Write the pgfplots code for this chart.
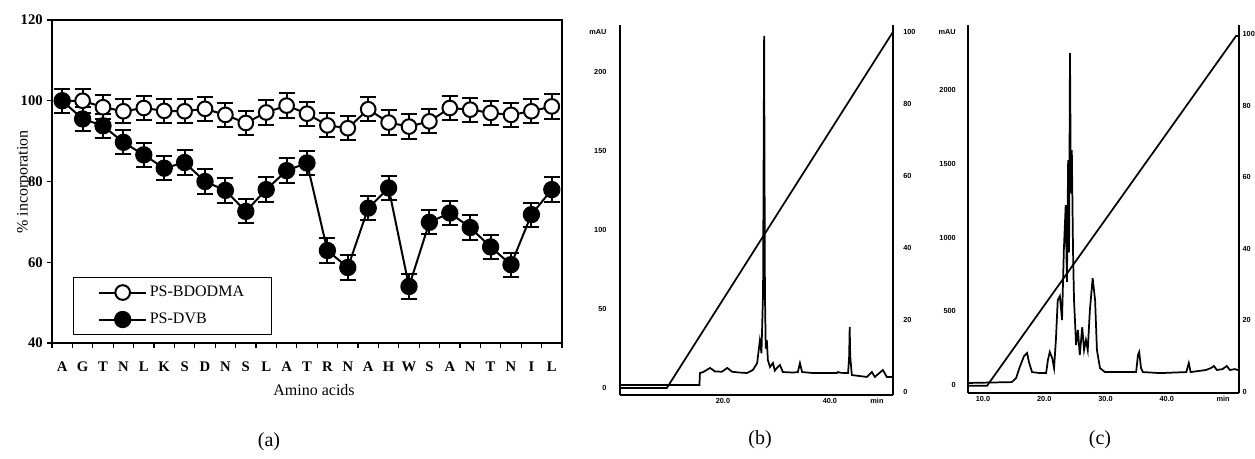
\documentclass[border=0pt]{standalone}
\usepackage{pgfplots}
\pgfplotsset{compat=1.18}
\usepackage{fontspec}
\setmainfont{Liberation Serif}
\newfontfamily\sansf{Liberation Sans}
\begin{document}
\begin{tikzpicture}[x=0.75pt,y=-0.75pt]
\useasboundingbox (0,0) rectangle (1255,458);
% ---------------- (a)
\begin{axis}[
  scale only axis, width=382.5pt, height=242.25pt,
  at={(39pt,-257.25pt)}, anchor=south west,
  xmin=-0.5, xmax=24.5, ymin=40, ymax=120,
  xtick={-0.5,0.5,...,24.5},
  x tick label as interval,
  xticklabels={A,G,T,N,L,K,S,D,N,S,L,A,T,R,N,A,H,W,S,A,N,T,N,I,L},
  ytick={40,60,80,100,120},
  tick pos=left, tick align=outside,
  major tick length=3.75pt,
  tick style={line width=1pt, black},
  axis line style={line width=1.2pt},
  /pgf/number format/assume math mode=true,
  xticklabel style={font=\fontsize{11}{11}\selectfont\bfseries, anchor=north, inner sep=0pt, yshift=-10.5pt},
  yticklabel style={font=\fontsize{11}{11}\selectfont\bfseries, anchor=east, inner sep=0pt, xshift=-3pt},
  legend image code/.code={\draw[#1, mark repeat=2, mark phase=2] plot coordinates {(0pt,0pt) (17.625pt,0pt) (35.25pt,0pt)};},
  legend style={at={(0.0412,0.2043)}, anchor=north west, draw=black, line width=0.75pt,
    inner xsep=18.5pt, inner ysep=3.75pt, row sep=5.25pt,
    nodes={inner sep=2pt, text height=8.5pt, text depth=2.5pt},
    font=\fontsize{12}{12}\selectfont},
  legend cell align=left,
]
\addplot[line width=1.5pt, mark=*, mark size=5.5pt, mark options={fill=white, line width=1.5pt},
  error bars/.cd, y dir=both, y explicit, error bar style={line width=1.5pt},
  error mark options={rotate=90, mark size=6pt, line width=1.5pt}]
  table[x=x, y=y, y error=e, row sep=\\] {
  x y e \\
  0 100 3 \\ 1 100 3 \\ 2 98.4 3 \\ 3 97.4 3 \\ 4 98.2 3 \\ 5 97.5 3 \\ 6 97.4 3 \\ 7 98 3 \\
  8 96.5 3 \\ 9 94.5 3 \\ 10 97.1 3 \\ 11 98.8 3 \\ 12 96.8 3 \\ 13 93.9 3 \\ 14 93.2 3 \\
  15 97.9 3 \\ 16 94.6 3 \\ 17 93.6 3 \\ 18 94.9 3 \\ 19 98.2 3 \\ 20 97.8 3 \\ 21 97 3 \\
  22 96.5 3 \\ 23 97.4 3 \\ 24 98.6 3 \\
  };
\addlegendentry{PS-BDODMA}
\addplot[line width=1.5pt, mark=*, mark size=6pt, mark options={fill=black, line width=1pt},
  error bars/.cd, y dir=both, y explicit, error bar style={line width=1.5pt},
  error mark options={rotate=90, mark size=6pt, line width=1.5pt}]
  table[x=x, y=y, y error=e, row sep=\\] {
  x y e \\
  0 100 3 \\ 1 95.5 3 \\ 2 93.8 3 \\ 3 89.7 3 \\ 4 86.6 3 \\ 5 83.3 3 \\ 6 84.7 3 \\ 7 80 3 \\
  8 77.8 3 \\ 9 72.6 3 \\ 10 78 3 \\ 11 82.7 3 \\ 12 84.6 3 \\ 13 62.9 3 \\ 14 58.7 3 \\
  15 73.4 3 \\ 16 78.4 3 \\ 17 54 3 \\ 18 69.9 3 \\ 19 72.2 3 \\ 20 68.6 3 \\ 21 63.8 3 \\
  22 59.4 3 \\ 23 71.8 3 \\ 24 78 3 \\
  };
\addlegendentry{PS-DVB}
\end{axis}
\node[font=\fontsize{12}{12}\selectfont] at (314,390) {Amino acids};
\node[font=\fontsize{12}{12}\selectfont, rotate=90] at (24,182) {\% incorporation};
% ---------------- (b)
\begin{axis}[
  scale only axis, width=204.75pt, height=277.5pt,
  at={(465pt,-296.25pt)}, anchor=south west,
  xmin=0.75, xmax=51.8, ymin=-4.43, ymax=229.7,
  axis x line*=bottom, axis y line*=left,
  axis line style={line width=1.3pt, -},
  major tick length=0pt,
  /pgf/number format/assume math mode=true,
  xtick={20,40,48.8}, xticklabels={20.0,40.0,min},
  ytick={0,50,100,150,200,225.3}, yticklabels={0,50,100,150,200,mAU},
  ticklabel style={font=\sansf\bfseries\fontsize{5.5}{5.5}\selectfont, inner sep=0pt},
  xticklabel style={anchor=north, yshift=-2.5pt},
  yticklabel style={anchor=east, xshift=-10pt},
]
\addplot[line width=1.3pt, black] table[row sep=\\] {
0.75 1.9 \\ 15.6 1.9 \\ 15.7 9.5 \\ 16.3 10.1 \\ 17.0 11.5 \\ 17.6 12.7 \\ 18.5 10.5 \\ 19.8 10.3 \\
20.8 12.7 \\ 21.7 10.3 \\ 23.0 9.8 \\ 24.5 9.5 \\ 25.6 11.4 \\ 26.4 15.8 \\ 26.9 30 \\ 27.2 22 \\
27.5 60 \\ 27.7 222.8 \\ 27.85 60 \\ 28.0 25 \\ 28.2 30.4 \\ 28.4 17.7 \\ 28.8 13.3 \\ 29.35 15.8 \\
29.7 11 \\ 30.1 12.7 \\ 30.65 14.6 \\ 31.2 10.1 \\ 33.0 9.8 \\ 34.0 10 \\ 34.4 15.8 \\ 34.8 10.1 \\
36.8 9.5 \\ 39 9.5 \\ 41.3 9.5 \\ 41.5 10.1 \\ 42 9.6 \\ 43.4 9.5 \\ 43.6 20 \\ 43.7 38.6 \\
43.8 20 \\ 44.1 8.2 \\ 46.9 7.0 \\ 47.85 10.1 \\ 48.4 7.0 \\ 49.9 11.4 \\ 50.65 7.0 \\ 51.6 7.0 \\
};
\end{axis}
\begin{axis}[
  scale only axis, width=204.75pt, height=277.5pt,
  at={(465pt,-296.25pt)}, anchor=south west,
  xmin=0.75, xmax=51.8, ymin=-0.83, ymax=101.9,
  axis x line=none, axis y line*=right,
  axis line style={line width=1.3pt, -},
  major tick length=0pt,
  /pgf/number format/assume math mode=true,
  ytick={0,20,40,60,80,100},
  ticklabel style={font=\sansf\bfseries\fontsize{5.5}{5.5}\selectfont, inner sep=0pt},
  yticklabel style={anchor=west, xshift=7.5pt},
]
\addplot[line width=1.3pt, black] table[row sep=\\] {
0.75 1.1 \\ 9.5 1.1 \\ 51.8 100 \\
};
\end{axis}
% ---------------- (c)
\begin{axis}[
  scale only axis, width=203.25pt, height=276pt,
  at={(726pt,-294.75pt)}, anchor=south west,
  xmin=7.55, xmax=51.8, ymin=-54, ymax=2441,
  axis x line*=bottom, axis y line*=left,
  axis line style={line width=1.3pt, -},
  major tick length=0pt,
  /pgf/number format/assume math mode=true,
  xtick={10,20,30,40,49.2}, xticklabels={10.0,20.0,30.0,40.0,min},
  ytick={0,500,1000,1500,2000,2393}, yticklabels={0,500,1000,1500,2000,mAU},
  ticklabel style={font=\sansf\bfseries\fontsize{5.5}{5.5}\selectfont, inner sep=0pt},
  xticklabel style={anchor=north, yshift=-2.5pt},
  yticklabel style={anchor=east, xshift=-9pt},
]
\addplot[line width=1.3pt, black] table[row sep=\\] {
7.55 14 \\ 14.7 20 \\ 15.4 47 \\ 16.0 122 \\ 16.7 197 \\ 17.2 217 \\ 17.5 156 \\ 18.0 88 \\
19.3 81 \\ 20.3 81 \\ 20.6 170 \\ 20.9 224 \\ 21.3 183 \\ 21.6 115 \\ 21.9 305 \\ 22.2 576 \\
22.55 603 \\ 22.9 441 \\ 23.2 915 \\ 23.5 1220 \\ 23.7 700 \\ 23.9 1525 \\ 24.05 900 \\ 24.2 2251 \\
24.35 1300 \\ 24.5 1593 \\ 24.7 900 \\ 24.86 576 \\ 25.2 271 \\ 25.5 373 \\ 25.8 203 \\ 26.2 393 \\
26.5 237 \\ 26.8 305 \\ 27.1 237 \\ 27.45 508 \\ 27.9 725 \\ 28.3 576 \\ 28.6 237 \\ 29.1 115 \\
29.9 88 \\ 31.2 88 \\ 35.0 88 \\ 35.3 203 \\ 35.5 224 \\ 35.8 115 \\ 36.1 88 \\ 38.9 81 \\
43.2 88 \\ 43.6 149 \\ 43.9 88 \\ 46.4 102 \\ 47.2 115 \\ 47.7 129 \\ 48.2 102 \\ 49.1 108 \\
49.8 129 \\ 50.3 102 \\ 51.1 108 \\ 51.8 100 \\
};
\end{axis}
\begin{axis}[
  scale only axis, width=203.25pt, height=276pt,
  at={(726pt,-294.75pt)}, anchor=south west,
  xmin=7.55, xmax=51.8, ymin=-0.3, ymax=102.5,
  axis x line=none, axis y line*=right,
  axis line style={line width=1.3pt, -},
  major tick length=0pt,
  /pgf/number format/assume math mode=true,
  ytick={0,20,40,60,80,100},
  ticklabel style={font=\sansf\bfseries\fontsize{5.5}{5.5}\selectfont, inner sep=0pt},
  yticklabel style={anchor=west, xshift=2.5pt},
]
\addplot[line width=1.3pt, black] table[row sep=\\] {
7.55 1.7 \\ 10.65 1.7 \\ 51.3 99.4 \\ 51.8 99.4 \\
};
\end{axis}
% panel labels
\node[font=\fontsize{15}{15}\selectfont] at (269,442) {(a)};
\node[font=\fontsize{15}{15}\selectfont] at (760,440) {(b)};
\node[font=\fontsize{15}{15}\selectfont] at (1100,440) {(c)};
\end{tikzpicture}
\end{document}
